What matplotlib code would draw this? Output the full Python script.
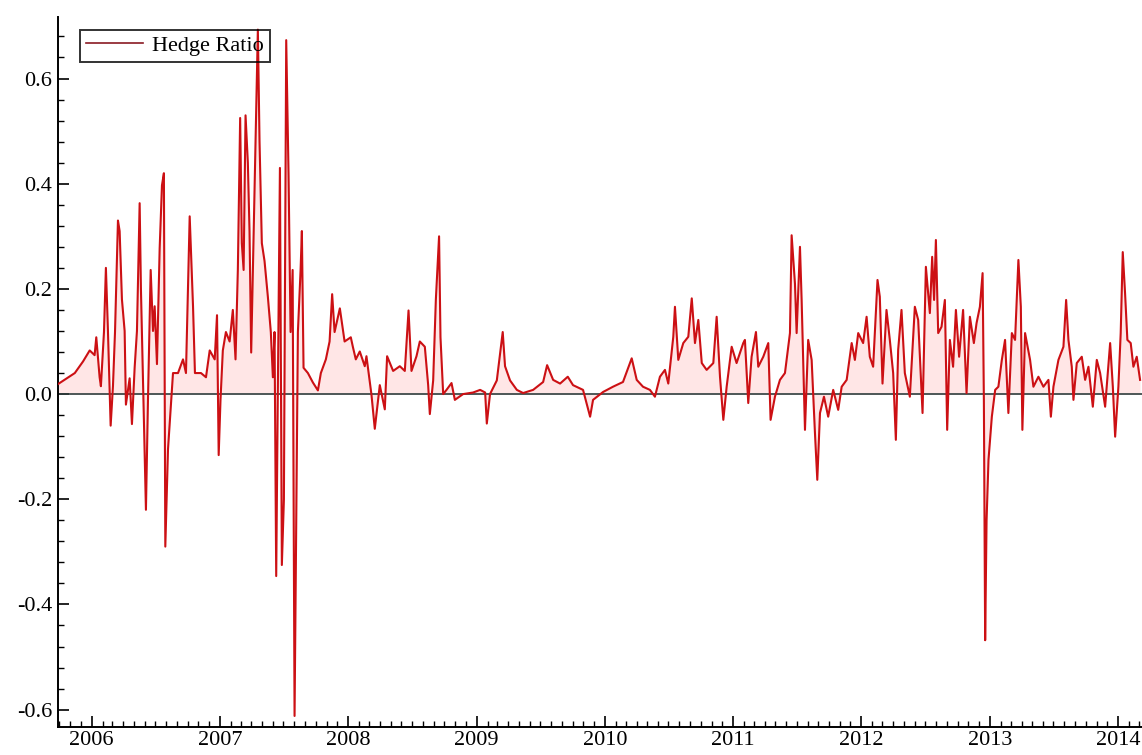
#!/usr/bin/env python3
"""hedge ratio 2005-2014, filled to zero, Mathematica-like look"""
import numpy as np, pandas as pd
import matplotlib; matplotlib.use("Agg")
import matplotlib.pyplot as plt
import matplotlib.dates as mdates
import matplotlib.ticker as mticker

t_year = [
    2005.737, 2005.868, 2005.932, 2005.984, 2006.023, 2006.036, 2006.062, 2006.072, 2006.096, 2006.111,
    2006.127, 2006.148, 2006.166, 2006.182, 2006.205, 2006.218, 2006.236, 2006.257, 2006.267, 2006.296,
    2006.314, 2006.335, 2006.353, 2006.374, 2006.384, 2006.400, 2006.423, 2006.439, 2006.460, 2006.478,
    2006.491, 2006.509, 2006.530, 2006.548, 2006.563, 2006.574, 2006.595, 2006.616, 2006.634, 2006.673,
    2006.712, 2006.735, 2006.764, 2006.774, 2006.790, 2006.805, 2006.852, 2006.891, 2006.920, 2006.959,
    2006.977, 2006.990, 2007.005, 2007.023, 2007.047, 2007.076, 2007.101, 2007.122, 2007.140, 2007.158,
    2007.171, 2007.185, 2007.200, 2007.218, 2007.231, 2007.244, 2007.270, 2007.296, 2007.309, 2007.327,
    2007.348, 2007.374, 2007.397, 2007.413, 2007.426, 2007.439, 2007.452, 2007.468, 2007.483, 2007.499,
    2007.517, 2007.535, 2007.551, 2007.567, 2007.582, 2007.595, 2007.608, 2007.629, 2007.639, 2007.652,
    2007.686, 2007.725, 2007.764, 2007.787, 2007.826, 2007.855, 2007.875, 2007.894, 2007.935, 2007.972,
    2008.021, 2008.037, 2008.060, 2008.091, 2008.130, 2008.143, 2008.182, 2008.208, 2008.247, 2008.286,
    2008.304, 2008.351, 2008.403, 2008.442, 2008.471, 2008.494, 2008.533, 2008.559, 2008.598, 2008.624,
    2008.637, 2008.663, 2008.684, 2008.709, 2008.720, 2008.741, 2008.767, 2008.806, 2008.832, 2008.896,
    2008.974, 2009.027, 2009.066, 2009.079, 2009.104, 2009.157, 2009.203, 2009.221, 2009.260, 2009.313,
    2009.362, 2009.440, 2009.518, 2009.549, 2009.596, 2009.650, 2009.710, 2009.751, 2009.829, 2009.884,
    2009.907, 2009.985, 2010.063, 2010.141, 2010.209, 2010.248, 2010.297, 2010.351, 2010.390, 2010.429,
    2010.468, 2010.494, 2010.533, 2010.546, 2010.572, 2010.611, 2010.650, 2010.677, 2010.702, 2010.728,
    2010.755, 2010.793, 2010.845, 2010.871, 2010.897, 2010.923, 2010.949, 2010.988, 2011.027, 2011.079,
    2011.092, 2011.118, 2011.144, 2011.178, 2011.196, 2011.235, 2011.274, 2011.292, 2011.326, 2011.365,
    2011.404, 2011.443, 2011.456, 2011.482, 2011.495, 2011.521, 2011.534, 2011.560, 2011.585, 2011.612,
    2011.638, 2011.656, 2011.677, 2011.708, 2011.741, 2011.780, 2011.819, 2011.846, 2011.885, 2011.924,
    2011.949, 2011.975, 2012.014, 2012.041, 2012.066, 2012.092, 2012.126, 2012.144, 2012.165, 2012.196,
    2012.222, 2012.248, 2012.269, 2012.287, 2012.313, 2012.339, 2012.378, 2012.417, 2012.443, 2012.477,
    2012.503, 2012.534, 2012.552, 2012.567, 2012.581, 2012.599, 2012.625, 2012.651, 2012.669, 2012.690,
    2012.715, 2012.737, 2012.762, 2012.793, 2012.820, 2012.846, 2012.877, 2012.898, 2012.924, 2012.945,
    2012.955, 2012.965, 2012.976, 2012.991, 2013.015, 2013.041, 2013.066, 2013.093, 2013.118, 2013.144,
    2013.171, 2013.196, 2013.222, 2013.241, 2013.253, 2013.274, 2013.313, 2013.339, 2013.378, 2013.417,
    2013.456, 2013.475, 2013.495, 2013.534, 2013.573, 2013.594, 2013.612, 2013.638, 2013.651, 2013.677,
    2013.716, 2013.742, 2013.768, 2013.802, 2013.833, 2013.859, 2013.898, 2013.937, 2013.958, 2013.976,
    2014.002, 2014.020, 2014.036, 2014.054, 2014.072, 2014.098, 2014.119, 2014.145, 2014.171,
]
hedge = [
    0.019, 0.040, 0.062, 0.083, 0.074, 0.108, 0.032, 0.015, 0.118, 0.240,
    0.120, -0.060, 0.015, 0.118, 0.330, 0.310, 0.180, 0.120, -0.020, 0.030,
    -0.057, 0.050, 0.120, 0.363, 0.200, 0.030, -0.220, -0.010, 0.236, 0.120,
    0.167, 0.057, 0.277, 0.397, 0.420, -0.290, -0.105, -0.027, 0.040, 0.040,
    0.066, 0.040, 0.338, 0.270, 0.167, 0.040, 0.040, 0.032, 0.083, 0.066,
    0.150, -0.116, -0.010, 0.083, 0.118, 0.100, 0.160, 0.066, 0.236, 0.525,
    0.287, 0.236, 0.530, 0.440, 0.310, 0.079, 0.388, 0.693, 0.480, 0.287,
    0.253, 0.185, 0.118, 0.032, 0.118, -0.346, 0.015, 0.430, -0.325, -0.200,
    0.673, 0.420, 0.118, 0.236, -0.612, -0.256, 0.118, 0.236, 0.310, 0.050,
    0.040, 0.022, 0.007, 0.040, 0.066, 0.100, 0.190, 0.118, 0.163, 0.100,
    0.108, 0.090, 0.066, 0.081, 0.053, 0.072, -0.001, -0.066, 0.017, -0.029,
    0.072, 0.044, 0.053, 0.044, 0.159, 0.044, 0.072, 0.100, 0.090, 0.017,
    -0.038, 0.026, 0.180, 0.300, 0.108, 0.000, 0.008, 0.021, -0.011, 0.000,
    0.003, 0.008, 0.003, -0.056, 0.000, 0.026, 0.118, 0.053, 0.026, 0.008,
    0.002, 0.008, 0.023, 0.055, 0.027, 0.020, 0.033, 0.017, 0.008, -0.043,
    -0.011, 0.004, 0.014, 0.023, 0.068, 0.027, 0.014, 0.008, -0.005, 0.033,
    0.046, 0.020, 0.109, 0.166, 0.065, 0.097, 0.109, 0.182, 0.097, 0.141,
    0.059, 0.046, 0.059, 0.147, 0.033, -0.049, 0.014, 0.090, 0.059, 0.097,
    0.103, -0.017, 0.071, 0.118, 0.052, 0.071, 0.097, -0.049, -0.005, 0.027,
    0.040, 0.116, 0.302, 0.210, 0.116, 0.280, 0.179, -0.068, 0.103, 0.065,
    -0.075, -0.163, -0.036, -0.005, -0.043, 0.008, -0.030, 0.014, 0.027, 0.097,
    0.065, 0.116, 0.097, 0.147, 0.071, 0.052, 0.217, 0.185, 0.020, 0.160,
    0.103, 0.040, -0.087, 0.084, 0.160, 0.040, -0.005, 0.166, 0.141, -0.036,
    0.242, 0.154, 0.261, 0.179, 0.293, 0.116, 0.128, 0.179, -0.068, 0.103,
    0.052, 0.160, 0.071, 0.160, 0.002, 0.147, 0.097, 0.135, 0.166, 0.230,
    -0.011, -0.468, -0.240, -0.125, -0.043, 0.008, 0.014, 0.065, 0.103, -0.036,
    0.116, 0.103, 0.255, 0.166, -0.068, 0.116, 0.065, 0.014, 0.033, 0.014,
    0.027, -0.043, 0.014, 0.065, 0.090, 0.179, 0.103, 0.052, -0.011, 0.059,
    0.071, 0.027, 0.052, -0.024, 0.065, 0.040, -0.024, 0.097, 0.014, -0.081,
    0.014, 0.116, 0.270, 0.192, 0.103, 0.097, 0.052, 0.071, 0.027,
]
x_range = (2005.737, 2014.186)
y_range = (-0.633, 0.717)

def to_date(y):
    yr = int(y)
    return pd.Timestamp(yr, 1, 1) + pd.Timedelta(days=(y - yr) * 365.25)

dates = [to_date(y) for y in t_year]
vals = np.array(hedge)

plt.rcParams.update({"font.family": "Liberation Serif", "font.size": 16})
W, H = 1142, 755
fig = plt.figure(figsize=(W/100, H/100), dpi=100, facecolor="white")
ax = fig.add_axes([58/W, 1-727/H, (W-58)/W, (727-17)/H])

LINE = "#cc1014"
ax.fill_between(dates, vals, 0, color="#ff2020", alpha=0.11, lw=0)
ax.axhline(0, color="#2f3d3d", lw=1.2, zorder=2)
ax.plot(dates, vals, color=LINE, lw=1.5, label="Hedge Ratio", zorder=3)

ax.set_xlim(to_date(x_range[0]), to_date(x_range[1]))
ax.set_ylim(*y_range)

# axes: left + bottom only, ticks pointing inward
for s in ("top", "right"): ax.spines[s].set_visible(False)
for s in ("left", "bottom"): ax.spines[s].set_linewidth(1.4)
ax.yaxis.set_major_locator(mticker.MultipleLocator(0.2))
ax.yaxis.set_minor_locator(mticker.MultipleLocator(0.04))
ax.yaxis.set_major_formatter(mticker.FuncFormatter(lambda v, _: f"{v:.1f}".replace("-0.0", "0.0")))
ax.xaxis.set_major_locator(mdates.YearLocator())
ax.xaxis.set_minor_locator(mdates.MonthLocator())
ax.xaxis.set_major_formatter(mdates.DateFormatter("%Y"))
ax.tick_params(which="major", direction="in", length=8, width=1.2, pad=4)
ax.tick_params(which="minor", direction="in", length=4, width=1.0)
ax.tick_params(axis="x", which="major", pad=3)

leg = ax.legend(loc="upper left", bbox_to_anchor=(22/(W-58), 1-13/(727-17)),
                frameon=True, fancybox=False, edgecolor="black", facecolor="none",
                borderaxespad=0, handlelength=2.6, handletextpad=0.4,
                borderpad=0.25, fontsize=16)
leg.get_frame().set_linewidth(1.4)
leg.get_lines()[0].set_color("#8a1a22")
leg.get_lines()[0].set_linewidth(1.2)

fig.savefig("out.png", dpi=100, facecolor="white")
